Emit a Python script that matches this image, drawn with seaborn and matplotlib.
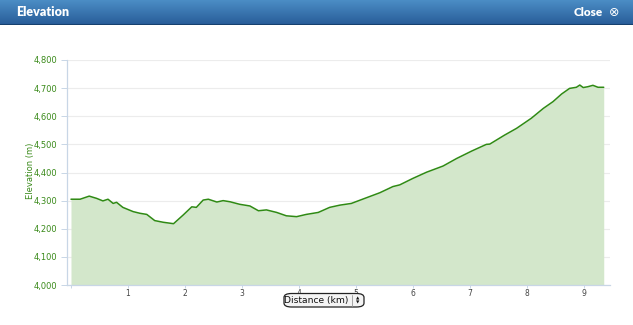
import numpy as np
import pandas as pd
import matplotlib
matplotlib.use("Agg")
import matplotlib.pyplot as plt
import seaborn as sns
from matplotlib.patches import FancyBboxPatch

# ---- data ----
distance_km = [0.00, 0.16, 0.32, 0.45, 0.56, 0.65, 0.74, 0.80, 0.91, 1.09, 1.21, 1.33,
               1.47, 1.62, 1.80, 1.97, 2.12, 2.20, 2.32, 2.41, 2.56, 2.67, 2.79, 2.96,
               3.14, 3.29, 3.43, 3.61, 3.78, 3.96, 4.13, 4.34, 4.54, 4.72, 4.92, 5.13,
               5.42, 5.65, 5.77, 6.00, 6.24, 6.53, 6.77, 7.03, 7.29, 7.35, 7.61, 7.82,
               8.08, 8.29, 8.46, 8.61, 8.75, 8.87, 8.93, 8.99, 9.07, 9.16, 9.25, 9.35]
elevation_m = [4305, 4305, 4316, 4308, 4299, 4305, 4290, 4294, 4276, 4261, 4255, 4251,
               4229, 4223, 4218, 4249, 4278, 4276, 4302, 4305, 4295, 4300, 4296, 4287,
               4281, 4264, 4267, 4258, 4246, 4243, 4251, 4258, 4276, 4284, 4290, 4306,
               4328, 4350, 4356, 4379, 4401, 4423, 4450, 4476, 4500, 4501, 4533, 4557,
               4593, 4628, 4652, 4679, 4699, 4703, 4711, 4702, 4705, 4710, 4703, 4703]
x_ticks = [0, 1, 2, 3, 4, 5, 6, 7, 8, 9]
x_tick_labels = ["", "1", "2", "3", "4", "5", "6", "7", "8", "9"]
y_ticks = [4000, 4100, 4200, 4300, 4400, 4500, 4600, 4700, 4800]
y_tick_labels = ["4,000", "4,100", "4,200", "4,300", "4,400", "4,500", "4,600", "4,700", "4,800"]

df = pd.DataFrame({"Distance (km)": distance_km, "Elevation (m)": elevation_m})

sns.set_theme(style="white")
plt.rcParams["font.family"] = ["DejaVu Sans"]

W, H = 633, 325
fig = plt.figure(figsize=(W / 100, H / 100), dpi=100)
fig.patch.set_facecolor("white")

# ---- header bar ----
hdr = fig.add_axes([0, 1 - 25 / H, 1, 25 / H])
grad = np.linspace(0, 1, 50)[:, None]
top = np.array([0x4b, 0x8d, 0xc5]) / 255
bot = np.array([0x28, 0x5c, 0x98]) / 255
img = top[None, None, :] * (1 - grad[:, :, None]) + bot[None, None, :] * grad[:, :, None]
hdr.imshow(img, aspect="auto", extent=[0, 1, 0, 1])
hdr.axhline(0.02, color="#16406e", lw=1.5)
hdr.set_axis_off()
hdr.text(16 / W, 0.5, "Elevation", color="white", fontsize=9, fontweight="heavy",
         family=["Lato", "DejaVu Sans"], va="center", ha="left", transform=hdr.transAxes)
hdr.text(603 / W, 0.5, "Close", color="white", fontsize=8.5, fontweight="heavy",
         family=["Lato", "DejaVu Sans"], va="center", ha="right", transform=hdr.transAxes)
hdr.text(614 / W, 0.52, "\u2297", color="white", fontsize=9,
         va="center", ha="center", transform=hdr.transAxes)

# ---- main chart ----
ax = fig.add_axes([67 / W, 40 / H, (610 - 67) / W, 225 / H])
line_color = "#2f8a14"
fill_color = "#d3e7cb"
ax.fill_between(df["Distance (km)"], 4000, df["Elevation (m)"], color=fill_color, lw=0, zorder=1)
sns.lineplot(data=df, x="Distance (km)", y="Elevation (m)", ax=ax, color=line_color,
             lw=1.1, zorder=3)

ax.set_xlim(-0.07, 9.46)
ax.set_ylim(4000, 4800)
ax.set_xticks(x_ticks)
ax.set_xticklabels(x_tick_labels)
ax.set_yticks(y_ticks)
ax.set_yticklabels(y_tick_labels)
ax.yaxis.grid(True, color="#ececec", lw=0.8, zorder=0)
ax.xaxis.grid(False)
ax.set_axisbelow(True)
for s in ["top", "right"]:
    ax.spines[s].set_visible(False)
for s in ["left", "bottom"]:
    ax.spines[s].set_color("#c8d6e6")
    ax.spines[s].set_linewidth(0.9)
ax.tick_params(axis="y", direction="out", length=4, width=0.7, color="#c8d6e6",
               labelsize=6, labelcolor="#3a8a1a", pad=3, left=True)
ax.tick_params(axis="x", direction="out", length=2.5, width=0.7, color="#c8d6e6",
               labelsize=5.5, labelcolor="#444444", pad=0.5, bottom=True)
ax.set_xlabel("")
ax.set_ylabel("")

fig.text(31 / W, 1 - 171 / H, "Elevation (m)", rotation=90, color="#3a8a1a", fontsize=6,
         ha="center", va="center")

# ---- "Distance (km)" select box ----
box = FancyBboxPatch((284 / W, 1 - 307 / H), (364 - 284) / W, 13.5 / H,
                     boxstyle="round,pad=0,rounding_size=0.012", transform=fig.transFigure,
                     facecolor="#f4f4f4", edgecolor="#222222", lw=0.9, zorder=5)
fig.patches.append(box)
fig.text(316 / W, 1 - 300.5 / H, "Distance (km)", fontsize=6.6, color="#111111",
         ha="center", va="center", zorder=8)
fig.add_artist(plt.Line2D([352 / W, 352 / W], [1 - 306 / H, 1 - 294.5 / H],
                          transform=fig.transFigure, color="#999999", lw=0.6, zorder=8))
fig.text(358 / W, 1 - 298.3 / H, "\u25b2", fontsize=3.2, color="#111111",
         ha="center", va="center", zorder=9)
fig.text(358 / W, 1 - 302.7 / H, "\u25bc", fontsize=3.2, color="#111111",
         ha="center", va="center", zorder=9)

fig.savefig("out.png", dpi=100, facecolor="white")
